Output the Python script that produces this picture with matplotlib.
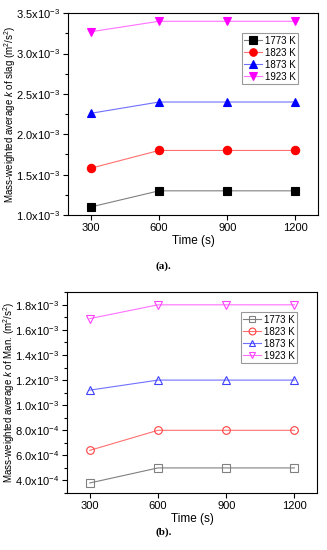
import matplotlib
matplotlib.use('Agg')
import matplotlib.pyplot as plt
from matplotlib.ticker import FuncFormatter, MultipleLocator

# data
times = [300, 600, 900, 1200]
temps = ['1773 K', '1823 K', '1873 K', '1923 K']
slag_k = {
    '1773 K': [1.10e-3, 1.30e-3, 1.30e-3, 1.30e-3],
    '1823 K': [1.58e-3, 1.80e-3, 1.80e-3, 1.80e-3],
    '1873 K': [2.26e-3, 2.40e-3, 2.40e-3, 2.40e-3],
    '1923 K': [3.27e-3, 3.40e-3, 3.40e-3, 3.40e-3],
}
man_k = {
    '1773 K': [3.8e-4, 5.0e-4, 5.0e-4, 5.0e-4],
    '1823 K': [6.4e-4, 8.0e-4, 8.0e-4, 8.0e-4],
    '1873 K': [1.12e-3, 1.20e-3, 1.20e-3, 1.20e-3],
    '1923 K': [1.69e-3, 1.80e-3, 1.80e-3, 1.80e-3],
}

marker_col = ['black', 'red', 'blue', 'magenta']
line_col = ['#808080', '#ff7070', '#7070ff', '#ff70ff']
markers = ['s', 'o', '^', 'v']

plt.rcParams['font.family'] = ['Liberation Sans', 'DejaVu Sans']
plt.rcParams['mathtext.fontset'] = 'custom'
plt.rcParams['mathtext.rm'] = 'Liberation Sans'
plt.rcParams['mathtext.it'] = 'Liberation Sans:italic'


def sci_fmt(v, pos):
    if v == 0:
        return '0'
    exp = 0
    m = v
    while abs(m) < 1:
        m *= 10
        exp -= 1
    return '%.1fx10$^{%d}$' % (m, exp)


fig = plt.figure(figsize=(3.27, 5.5), dpi=100)
ax1 = fig.add_axes([0.208, 0.609, 0.765, 0.367])
ax2 = fig.add_axes([0.205, 0.1036, 0.765, 0.365])


def draw(ax, data, filled, ylim, major, minor, ylabel):
    for i, t in enumerate(temps):
        ax.plot(times, data[t], color=line_col[i], lw=0.8, marker=markers[i],
                ms=6 if filled else 5.5,
                mfc=marker_col[i] if filled else 'none',
                mec=marker_col[i] if filled else line_col[i].replace('70', '40'),
                mew=0.8, label=t)
    ax.set_xlim(200, 1300)
    ax.set_ylim(*ylim)
    ax.set_xticks(times)
    ax.yaxis.set_major_locator(MultipleLocator(major))
    ax.yaxis.set_minor_locator(MultipleLocator(minor))
    ax.yaxis.set_major_formatter(FuncFormatter(sci_fmt))
    ax.tick_params(axis='both', which='both', direction='out', top=False, right=False,
                   labelsize=8, width=0.8)
    ax.tick_params(which='major', length=3.5, pad=2)
    ax.tick_params(which='minor', length=2)
    for s in ax.spines.values():
        s.set_linewidth(0.8)
    ax.set_xlabel('Time (s)', fontsize=8.5, labelpad=2)
    ax.set_ylabel(ylabel, fontsize=7)
    ax.yaxis.set_label_coords(-0.2, 0.5)
    leg = ax.legend(loc='upper right', bbox_to_anchor=(0.92, 0.9), fontsize=7,
                    frameon=True, fancybox=False, edgecolor='#808080',
                    handlelength=1.8, handletextpad=0.3, borderpad=0.25,
                    labelspacing=0.2, borderaxespad=0, markerscale=0.9)
    leg.get_frame().set_linewidth(0.8)


draw(ax1, slag_k, True, (1.0e-3, 3.5e-3), 0.5e-3, 0.25e-3,
     'Mass-weighted average $k$ of slag (m$^2$/s$^2$)')
draw(ax2, man_k, False, (0.3e-3, 1.9e-3), 0.2e-3, 0.1e-3,
     'Mass-weighted average $k$ of Man. (m$^2$/s$^2$)')

fig.text(0.5, 1 - 266 / 550, '(a).', ha='center', va='center', fontsize=8,
         fontweight='bold', family='Liberation Serif')
fig.text(0.5, 1 - 532 / 550, '(b).', ha='center', va='center', fontsize=8,
         fontweight='bold', family='Liberation Serif')

fig.savefig('out.png', dpi=100)
plt.close(fig)
